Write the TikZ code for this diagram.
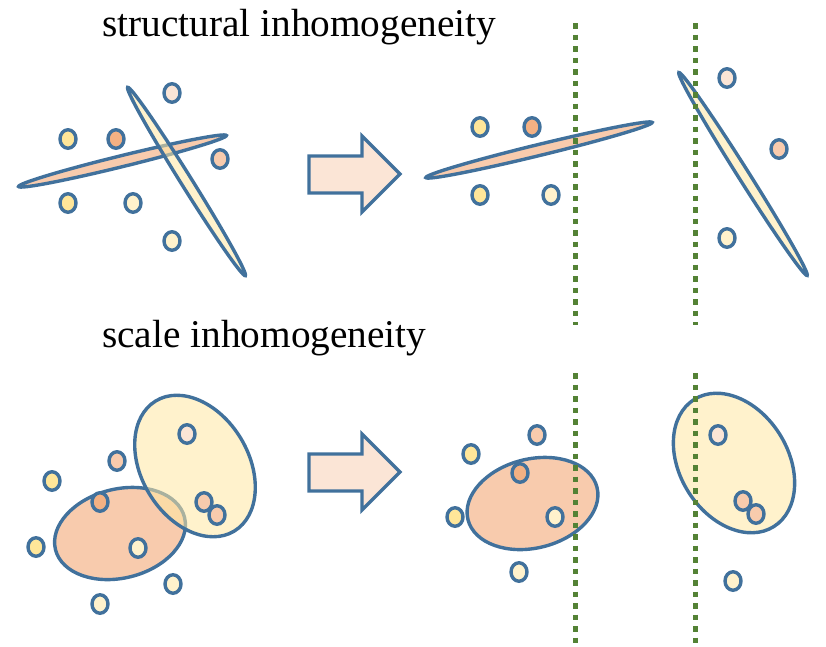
\documentclass[tikz,border=0pt]{standalone}
\usepackage{fontspec}
\setmainfont{Liberation Serif}
\usetikzlibrary{shapes.geometric}
\definecolor{rim}{HTML}{41719C}
\definecolor{cutgreen}{HTML}{548235}
\definecolor{pinkish}{HTML}{FBE5D6}
\definecolor{yel}{HTML}{FFE699}
\definecolor{paleyel}{HTML}{FFF2CC}
\definecolor{blobyel}{HTML}{FFE7A2}
\definecolor{org}{HTML}{F4B183}
\definecolor{lightorg}{HTML}{F8CBAD}
\begin{document}
\begin{tikzpicture}[x=1pt,y=-1pt,
        dot/.style={ellipse,draw=rim,line width=3.4pt,minimum width=16pt,minimum height=18.5pt,inner sep=0pt},
        blob/.style={ellipse,draw=rim,line width=3.4pt,inner sep=0pt},
        yelblob/.style={blob,fill=blobyel,fill opacity=.55,draw opacity=1},
        cut/.style={draw=cutgreen,line width=5.5pt,dash pattern=on 5.5pt off 6pt},
        title/.style={anchor=base west,inner sep=0pt,font=\fontsize{39.3}{41}\selectfont}]
        \useasboundingbox (0,0) rectangle (826,646);
        \node[title] (struct) at (102,36) {structural inhomogeneity};
        \node[title] (scale) at (102,347) {scale inhomogeneity};
        % structural
        \node[blob,fill=lightorg,minimum width=214pt,minimum height=11pt,rotate=13.8] (flatL) at (122.5,161) {};
        \node[blob,fill=blobyel,fill opacity=.55,draw opacity=1,minimum width=222pt,minimum height=11pt,rotate=-58] (steepL) at (186.5,181.5) {};
        \node[blob,fill=lightorg,minimum width=233pt,minimum height=11pt,rotate=13.7] (flatR) at (539,150) {};
        \node[blob,fill=paleyel,minimum width=240pt,minimum height=11pt,rotate=-57.7] (steepR) at (743,174) {};
        % scale
        \node[blob,fill=lightorg,minimum width=133pt,minimum height=89pt,rotate=14] (orgL) at (120,533.5) {};
        \node[yelblob,minimum width=152pt,minimum height=107pt,rotate=-59] (yelL) at (195,466) {};
        \node[blob,fill=lightorg,minimum width=133pt,minimum height=89pt,rotate=14] (orgR) at (532.5,503.5) {};
        \node[yelblob,minimum width=150pt,minimum height=108pt,rotate=-58] (yelR) at (734,463) {};
        % arrows
        \foreach \y/\n in {0/top,298/bottom}
          \draw[rim,line width=3.4pt,fill=pinkish,shift={(0,\y)}] (309,156) -- (362,156) -- (362,136) -- (400,174)
            -- (362,212) -- (362,193) -- (309,193) -- cycle;
        % points
        \foreach \x/\y/\c [count=\i] in {172/93/pinkish,68/139/yel,116/139/org,220/159/lightorg,68/203/yel,133/203/paleyel,172/241/paleyel,
            480/127/yel,532/127/org,480/195/yel,551/195/paleyel,727/78/pinkish,779/149/lightorg,727/238/paleyel,
            187/434/pinkish,117/461/lightorg,52/481/yel,100/502/org,204/502/lightorg,217/515/lightorg,36/547/yel,138/548/paleyel,173/584/paleyel,100/604/paleyel,
            537/435/lightorg,471/454/yel,520/473/org,455/517/yel,555/517/paleyel,519/572/paleyel,718/435/pinkish,743/501/lightorg,756/514/lightorg,733/581/paleyel}
          \node[dot,fill=\c] (p\i) at (\x,\y) {};
        % cuts
        \coordinate (c1a) at (575.5,23);  \coordinate (c1b) at (575.5,325);
        \coordinate (c2a) at (695.5,23);  \coordinate (c2b) at (695.5,325);
        \coordinate (c3a) at (575.5,373); \coordinate (c3b) at (575.5,646);
        \coordinate (c4a) at (695.5,373); \coordinate (c4b) at (695.5,646);
        \draw[cut] (c1a) -- (c1b);
        \draw[cut] (c2a) -- (c2b);
        \draw[cut] (c3a) -- (c3b);
        \draw[cut] (c4a) -- (c4b);
\end{tikzpicture}
\end{document}
